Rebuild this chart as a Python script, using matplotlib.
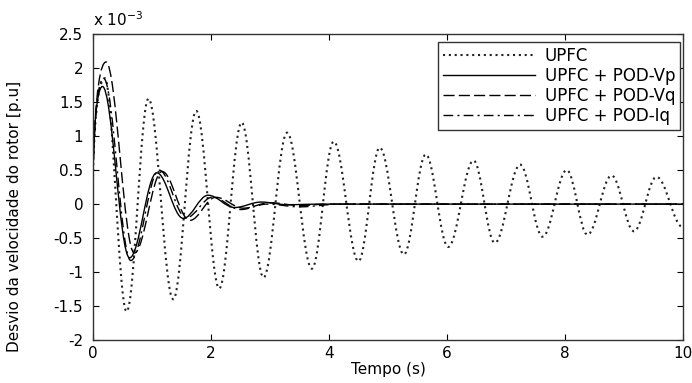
import matplotlib
matplotlib.use("Agg")
import matplotlib.pyplot as plt
from matplotlib.path import Path
from matplotlib.patches import PathPatch
from matplotlib.lines import Line2D

# extrema (time [s], speed deviation [x 1e-3 p.u])
t_upfc = [0, 0.20, 0.57, 0.94, 1.36, 1.75, 2.14, 2.52, 2.89, 3.29, 3.71, 4.08, 4.50,
          4.86, 5.27, 5.64, 6.02, 6.45, 6.81, 7.24, 7.62, 8.03, 8.38, 8.79, 9.17, 9.55, 10.0]
v_upfc = [0.40, 1.85, -1.58, 1.55, -1.40, 1.37, -1.24, 1.20, -1.08, 1.05, -0.95, 0.92, -0.84,
          0.83, -0.74, 0.73, -0.63, 0.64, -0.57, 0.58, -0.48, 0.50, -0.45, 0.42, -0.40, 0.40, -0.34]

t_vp = [0, 0.16, 0.62, 1.08, 1.53, 1.95, 2.40, 2.85, 3.30, 3.80, 10.0]
v_vp = [0.45, 1.73, -0.79, 0.46, -0.21, 0.13, -0.05, 0.03, -0.01, 0.0, 0.0]

t_vq = [0, 0.22, 0.70, 1.17, 1.64, 2.08, 2.55, 3.00, 3.50, 4.00, 10.0]
v_vq = [0.40, 2.09, -0.72, 0.48, -0.24, 0.10, -0.06, 0.02, -0.02, 0.0, 0.0]

t_iq = [0, 0.18, 0.64, 1.12, 1.58, 2.02, 2.50, 2.95, 3.50, 4.20, 10.0]
v_iq = [0.40, 1.85, -0.83, 0.50, -0.20, 0.10, -0.08, 0.0, -0.04, 0.0, 0.0]

labels = ["UPFC", "UPFC + POD-Vp", "UPFC + POD-Vq", "UPFC + POD-Iq"]
xticks = [0, 2, 4, 6, 8, 10]
yticks = [-2, -1.5, -1, -0.5, 0, 0.5, 1, 1.5, 2, 2.5]
ytick_labels = ["-2", "-1.5", "-1", "-0.5", "0", "0.5", "1", "1.5", "2", "2.5"]


def smooth_path(t, v, k=0.3634):
    # cubic segments between extrema, flat tangent at each extremum
    verts = [(t[0], v[0])]
    codes = [Path.MOVETO]
    for i in range(1, len(t)):
        d = t[i] - t[i - 1]
        if i == 1:
            c1 = (t[0] + 0.15 * d, v[0] + 0.8 * (v[1] - v[0]))
        else:
            c1 = (t[i - 1] + k * d, v[i - 1])
        c2 = (t[i] - k * d, v[i])
        verts += [c1, c2, (t[i], v[i])]
        codes += [Path.CURVE4] * 3
    return Path(verts, codes)


styles = [
    dict(ls=(0, (1, 1.8)), lw=1.5, color="#222222"),
    dict(ls="-", lw=1.0, color="black"),
    dict(ls=(0, (8, 3)), lw=1.0, color="black"),
    dict(ls=(0, (7, 3, 1.5, 3)), lw=1.0, color="black"),
]

fig = plt.figure(figsize=(6.92, 3.83), dpi=100)
ax = fig.add_axes([0.1344, 0.112, 0.8526, 0.799])

series = [(t_upfc, v_upfc), (t_vp, v_vp), (t_vq, v_vq), (t_iq, v_iq)]
handles = []
for (t, v), st, lab in zip(series, styles, labels):
    ax.add_patch(PathPatch(smooth_path(t, v), fill=False, ec=st["color"],
                           lw=st["lw"], ls=st["ls"]))
    handles.append(Line2D([], [], color=st["color"], lw=st["lw"], ls=st["ls"], label=lab))

ax.set_xlim(0, 10)
ax.set_ylim(-2, 2.5)
ax.set_xticks(xticks)
ax.set_yticks(yticks)
ax.set_yticklabels(ytick_labels)
ax.tick_params(direction="in", length=4, width=0.8, top=True, right=True,
               labelsize=11, colors="black")
ax.tick_params(axis="y", pad=7)
ax.tick_params(axis="x", pad=4)
for sp in ax.spines.values():
    sp.set_color("#333333")
    sp.set_linewidth(1.0)

ax.set_xlabel("Tempo (s)", fontsize=11, labelpad=1)
ax.set_ylabel("Desvio da velocidade do rotor [p.u]", fontsize=11)
ax.yaxis.set_label_coords(-0.12, 0.405)
ax.text(0.0, 1.015, r"x 10$^{-3}$", transform=ax.transAxes, fontsize=11,
        ha="left", va="bottom")

leg = ax.legend(handles=handles, loc="upper right", bbox_to_anchor=(0.995, 0.974),
                borderaxespad=0, fontsize=12, handlelength=5.5, handletextpad=0.6,
                labelspacing=0.12, borderpad=0.3, fancybox=False, framealpha=1,
                edgecolor="#333333")
leg.get_frame().set_linewidth(1.0)

fig.savefig("out.png", dpi=100)
